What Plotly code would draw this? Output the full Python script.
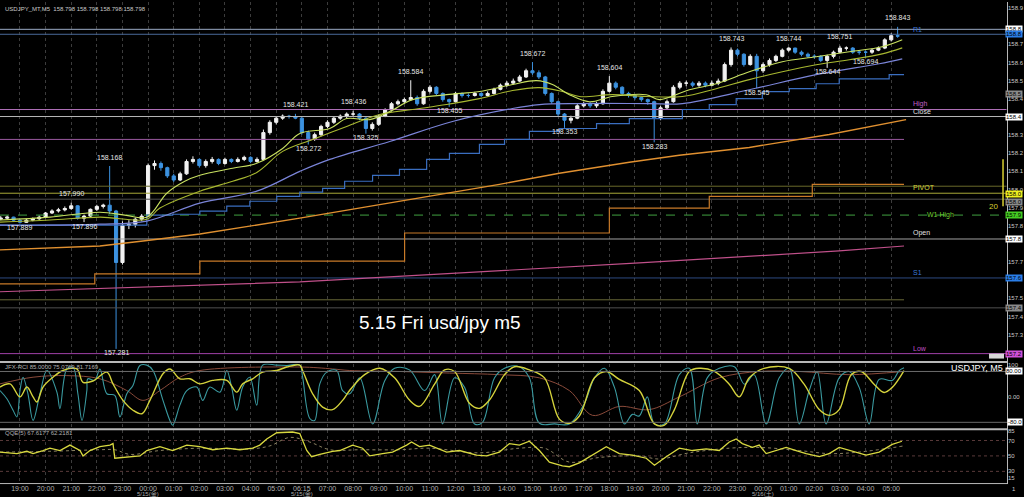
import plotly.graph_objects as go

W, H = 1024, 497


def px(x):
    return x / W


def py(y):
    return 1 - y / H


# ---------------- data ----------------
# time unit: hours after 19:00 (5/14); 15-minute candles
candle_start = -0.75
candle_step = 0.25
first_open = 157.910
closes = [157.915, 157.920, 157.905, 157.895, 157.905, 157.912, 157.920, 157.940, 157.950, 157.955,
          157.962, 157.975, 157.915, 157.925, 157.958, 157.972, 157.978, 157.950, 157.700, 157.880,
          157.885, 157.910, 157.925, 158.170, 158.180, 158.160, 158.120, 158.100, 158.130, 158.190,
          158.200, 158.170, 158.190, 158.200, 158.180, 158.200, 158.190, 158.200, 158.210, 158.190,
          158.200, 158.330, 158.380, 158.400, 158.410, 158.408, 158.400, 158.330, 158.300, 158.320,
          158.360, 158.380, 158.400, 158.410, 158.420, 158.420, 158.400, 158.350, 158.370, 158.410,
          158.440, 158.470, 158.480, 158.490, 158.500, 158.470, 158.530, 158.550, 158.520, 158.490,
          158.480, 158.520, 158.510, 158.510, 158.520, 158.510, 158.520, 158.540, 158.560, 158.570,
          158.580, 158.600, 158.630, 158.620, 158.600, 158.520, 158.480, 158.420, 158.390, 158.400,
          158.460, 158.470, 158.460, 158.470, 158.530, 158.570, 158.550, 158.520, 158.510, 158.500,
          158.490, 158.480, 158.400, 158.450, 158.480, 158.550, 158.570, 158.570, 158.560, 158.570,
          158.560, 158.570, 158.580, 158.660, 158.730, 158.710, 158.660, 158.700, 158.630, 158.660,
          158.680, 158.700, 158.730, 158.740, 158.720, 158.710, 158.700, 158.700, 158.680, 158.700,
          158.720, 158.740, 158.740, 158.720, 158.720, 158.720, 158.730, 158.740, 158.780, 158.800,
          158.798]
highs = [157.925, 157.928, 157.922, 157.910, 157.912, 157.918, 157.928, 157.945, 157.958, 157.965,
         157.972, 157.990, 157.978, 157.932, 157.962, 157.980, 157.985, 158.168, 157.955, 157.900,
         157.905, 157.918, 157.935, 158.180, 158.195, 158.190, 158.165, 158.130, 158.140, 158.200,
         158.215, 158.205, 158.200, 158.212, 158.205, 158.208, 158.205, 158.210, 158.218, 158.215,
         158.210, 158.345, 158.390, 158.410, 158.418, 158.416, 158.421, 158.405, 158.340, 158.330,
         158.368, 158.390, 158.408, 158.418, 158.428, 158.436, 158.425, 158.405, 158.380, 158.418,
         158.448, 158.478, 158.490, 158.500, 158.584, 158.510, 158.540, 158.560, 158.555, 158.525,
         158.495, 158.528, 158.525, 158.520, 158.528, 158.525, 158.530, 158.548, 158.568, 158.580,
         158.592, 158.610, 158.640, 158.672, 158.632, 158.605, 158.525, 158.485, 158.425, 158.412,
         158.468, 158.480, 158.478, 158.480, 158.540, 158.604, 158.578, 158.555, 158.528, 158.515,
         158.505, 158.495, 158.485, 158.460, 158.490, 158.560, 158.580, 158.582, 158.578, 158.580,
         158.578, 158.582, 158.592, 158.670, 158.743, 158.738, 158.715, 158.710, 158.712, 158.670,
         158.690, 158.708, 158.738, 158.744, 158.742, 158.728, 158.718, 158.710, 158.706, 158.708,
         158.728, 158.751, 158.748, 158.745, 158.730, 158.728, 158.738, 158.748, 158.788, 158.812,
         158.843]
lows = [157.905, 157.908, 157.898, 157.889, 157.892, 157.900, 157.906, 157.915, 157.935, 157.942,
        157.948, 157.955, 157.908, 157.896, 157.918, 157.950, 157.962, 157.935, 157.281, 157.690,
        157.862, 157.870, 157.900, 157.920, 158.150, 158.145, 158.110, 158.090, 158.095, 158.125,
        158.180, 158.160, 158.160, 158.180, 158.172, 158.175, 158.182, 158.185, 158.192, 158.182,
        158.185, 158.195, 158.320, 158.370, 158.392, 158.398, 158.395, 158.320, 158.272, 158.290,
        158.312, 158.352, 158.372, 158.392, 158.400, 158.410, 158.390, 158.325, 158.340, 158.362,
        158.405, 158.432, 158.462, 158.470, 158.485, 158.460, 158.465, 158.520, 158.512, 158.480,
        158.455, 158.475, 158.500, 158.500, 158.505, 158.502, 158.505, 158.515, 158.535, 158.552,
        158.562, 158.575, 158.595, 158.610, 158.590, 158.510, 158.470, 158.410, 158.353, 158.375,
        158.395, 158.452, 158.450, 158.450, 158.465, 158.525, 158.540, 158.512, 158.500, 158.490,
        158.480, 158.465, 158.283, 158.390, 158.440, 158.475, 158.540, 158.555, 158.550, 158.552,
        158.550, 158.555, 158.560, 158.575, 158.650, 158.700, 158.650, 158.655, 158.545, 158.620,
        158.650, 158.672, 158.695, 158.722, 158.712, 158.700, 158.692, 158.688, 158.672, 158.644,
        158.690, 158.715, 158.728, 158.712, 158.708, 158.694, 158.712, 158.725, 158.735, 158.772,
        158.790]
high_label_idx = [11, 17, 46, 55, 64, 83, 95, 114, 123, 131, 140]
low_label_idx = [3, 13, 18, 48, 57, 70, 88, 102, 118, 129, 135]

# moving averages (hour, price)
ma_fast_t = [-0.78, 1.17, 3.12, 4.09, 4.95, 5.73, 6.43, 7.02, 8.30, 9.24, 10.25, 10.92, 12.09, 12.75, 13.65,
             14.43, 15.32, 16.65, 17.93, 19.22, 20.16, 20.78, 21.44, 22.22, 23.12, 24.44, 24.95, 26.12,
             27.17, 28.46, 29.75, 31.07, 32.36, 33.65, 34.43]
ma_fast_v = [157.906, 157.920, 157.944, 157.930, 157.920, 158.036, 158.094, 158.123, 158.157, 158.181,
             158.253, 158.326, 158.350, 158.398, 158.393, 158.432, 158.490, 158.514, 158.529, 158.563,
             158.582, 158.563, 158.514, 158.480, 158.505, 158.514, 158.490, 158.538, 158.567, 158.625,
             158.674, 158.698, 158.722, 158.746, 158.780]
ma_mid_t = [-0.78, 1.17, 3.12, 4.95, 5.46, 7.02, 8.30, 9.24, 10.25, 11.42, 12.75, 14.04, 15.32, 16.65,
            17.93, 19.22, 20.27, 21.17, 21.83, 23.12, 24.44, 25.85, 27.17, 28.46, 29.75, 31.07, 32.36,
            33.65, 34.43]
ma_mid_v = [157.896, 157.906, 157.920, 157.910, 157.964, 158.046, 158.094, 158.137, 158.239, 158.297,
            158.360, 158.418, 158.442, 158.466, 158.495, 158.534, 158.548, 158.529, 158.505, 158.514,
            158.505, 158.505, 158.543, 158.587, 158.625, 158.659, 158.683, 158.712, 158.741]
ma_slow_t = [-0.78, 1.17, 3.12, 4.95, 7.02, 9.24, 10.92, 12.09, 14.43, 16.88, 19.22, 20.27, 21.83,
             24.56, 25.85, 28.46, 31.07, 33.53, 34.43]
ma_slow_v = [157.881, 157.881, 157.886, 157.901, 157.988, 158.046, 158.142, 158.200, 158.287, 158.384,
             158.447, 158.466, 158.471, 158.471, 158.471, 158.538, 158.611, 158.664, 158.688]
band_step_t = [-0.78, 4.95, 5.96, 7.02, 8.07, 8.97, 10.02, 10.92, 11.81, 12.67, 13.76, 14.81, 15.87,
               16.76, 17.93, 18.91, 19.88, 21.05, 22.50, 23.78, 25.85, 26.90, 27.95, 28.97, 30.02,
               31.07, 31.97, 33.92, 34.50]
band_step_v = [157.881, 157.930, 157.934, 157.949, 157.973, 157.997, 158.021, 158.041, 158.060, 158.094,
               158.123, 158.152, 158.200, 158.229, 158.273, 158.297, 158.336, 158.350, 158.374, 158.398,
               158.442, 158.466, 158.495, 158.529, 158.543, 158.567, 158.591, 158.611, 158.611]
ma_long_t = [-0.78, 3.12, 4.80, 7.02, 10.92, 14.81, 18.71, 21.05, 23.78, 25.73, 28.46, 31.58, 34.58]
ma_long_v = [157.761, 157.780, 157.804, 157.838, 157.915, 157.997, 158.079, 158.133, 158.186, 158.220,
             158.258, 158.321, 158.393]
ma_xlong_t = [-0.78, 10.92, 24.17, 31.97, 34.50]
ma_xlong_v = [157.558, 157.606, 157.698, 157.756, 157.780]
step_long_t = [-0.78, 2.92, 7.02, 15.01, 23.00, 26.90, 30.92, 34.50]
step_long_v = [157.596, 157.645, 157.707, 157.843, 157.964, 158.021, 158.079, 158.079]

# horizontal levels
level_prices = [158.831, 158.807, 158.442, 158.408, 158.297, 158.070, 158.036, 158.007, 157.930,
                157.814, 157.625, 157.519, 157.480, 157.258]
level_names = ["R1", "", "High", "Close", "", "", "PIVOT", "", "W1 High", "Open", "S1", "", "", "Low"]
extra_box_price = 158.519

# right axis price ticks (labels hidden behind the level boxes are blank)
price_ticks = [157.350, 157.438, 157.526, 157.614, 157.702, 157.790, 157.878, 157.966, 158.054,
               158.142, 158.230, 158.318, 158.406, 158.494, 158.582, 158.670, 158.758, 158.846, 158.934]
hidden_ticks = [157.614, 157.790, 158.406, 158.846]

hour_labels = ["19:00", "20:00", "21:00", "22:00", "23:00", "00:00", "01:00", "02:00", "03:00",
               "04:00", "05:00", "06:15", "07:00", "08:00", "09:00", "10:00", "11:00", "12:00",
               "13:00", "14:00", "15:00", "16:00", "17:00", "18:00", "19:00", "20:00", "21:00",
               "22:00", "23:00", "00:00", "01:00", "02:00", "03:00", "04:00", "05:00"]
date_labels = ["5/15(金)", "5/15(金)", "5/16(土)"]
date_label_hours = [5.0, 11.0, 29.0]

# RCI (hour, value)
rci_mid_t = [-0.78, -0.39, 0, 0.27, 0.51, 0.66, 0.90, 1.29, 1.68, 2.22, 2.46, 2.85, 3.39, 3.63, 4.02, 4.41,
             4.76, 5.07, 5.58, 5.85, 6.24, 6.63, 7.02, 7.52, 8.07, 8.46, 8.69, 9.08, 9.47, 10.02, 10.41,
             10.92, 11.03, 11.42, 11.81, 12.20, 12.59, 12.87, 13.45, 14.04, 14.62, 15.20, 15.59, 16.18,
             16.57, 16.96, 17.54, 17.93, 18.32, 18.91, 19.30, 19.88, 20.47, 21.05, 21.44, 21.83, 22.42,
             22.88, 23.39, 24.17, 24.76, 25.15, 25.54, 26.12, 26.51, 27.10, 27.68, 28.07, 28.46, 29.04,
             30.02, 30.60, 31.19, 31.58, 31.97, 32.44, 32.83, 33.33, 33.72, 34.04, 34.50]
rci_mid_v = [31, 41, 0, 31, 0, -16, 31, 62, 83, 88, 46, 50, 78, 41, -11, -42,
             -53, -11, 73, 88, 57, 57, 41, 52, 52, 15, 41, 57, 78, 83, 94,
             100, 83, 10, -32, -40, -11, 21, 70, 90, 60, -10, -30, 40,
             85, 80, -20, -36, -10, 70, 95, 85, 60, -70, -83, -60, 60,
             80, 55, 20, -85, -89, -40, 80, 90, 80, 40, 0, 60, 90,
             90, 40, -40, -58, -40, 70, 80, 40, 14, 30, 83]
rci_fast_t = [-0.78, -0.51, -0.27, -0.12, 0, 0.12, 0.31, 0.51, 0.78, 1.05, 1.44, 1.56, 1.83, 2.07, 2.26,
              2.42, 2.61, 2.65, 2.92, 3.12, 3.39, 3.70, 3.90, 4.17, 4.41, 4.68, 4.95, 5.19, 5.58, 5.85,
              5.96, 6.24, 6.51, 6.90, 7.13, 7.41, 7.80, 8.07, 8.27, 8.46, 8.69, 8.97, 9.24, 9.47, 10.02,
              10.41, 10.92, 11.03, 11.31, 11.50, 11.70, 11.97, 12.36, 12.59, 12.87, 13.26, 13.76, 14.23,
              14.62, 15.20, 15.79, 16.18, 16.49, 16.96, 17.35, 17.74, 18.05, 18.52, 18.91, 19.49, 19.88,
              20.27, 20.86, 21.44, 22.03, 22.42, 22.81, 23.20, 23.59, 23.90, 24.17, 24.48, 24.76, 25.15,
              25.73, 26.12, 26.43, 26.82, 27.29, 27.88, 28.27, 28.65, 29.12, 29.63, 30.02, 30.41, 30.80,
              31.11, 31.46, 31.97, 32.36, 32.75, 33.14, 33.53, 34.04, 34.31, 34.50]
rci_fast_v = [20, -6, -42, -63, 20, 62, 10, -74, 10, 83, 15, -37, 88, 93, 10,
              -74, 20, 57, 52, 88, 10, 5, -63, 10, 36, 99, 100, 83, -11, -74,
              -89, -26, 20, 31, -11, 31, 15, 83, 26, -42, 31, 62, -26, 100, 100,
              99, 100, 62, -68, -74, 41, 78, 83, 20, 10, 60, -85, 50,
              90, 85, 20, 70, -85, 60, 30, -85, -80, 60, 90, 95, 60,
              -83, -85, -85, -20, 60, 90, 30, -85, -55, -60, 0, -85, -85,
              70, 90, -85, 60, 90, 95, 40, 70, -85, 60, 90, -85, 20,
              80, -85, 60, 80, 30, -85, 55, 52, 83, 92]
rci_slow_t = [-0.78, 0.51, 1.83, 3.12, 4.17, 4.80, 5.46, 6.24, 7.02, 10.92, 12.20, 12.87, 14.81, 16.76,
              18.71, 20.27, 21.44, 22.34, 23.39, 24.56, 25.73, 27.29, 28.85, 30.41, 32.36, 34.50]
rci_slow_v = [41, 62, 67, 57, 20, -11, 20, 62, 83, 94, 88, 83, 80, 75,
              70, 60, 20, -58, -30, -40, 0, 60, 80, 80, 70, 80]

# QQE (hour, value)
qqe_t = [-0.78, -0.12, 0.27, 0.51, 0.90, 1.17, 1.56, 1.95, 2.34, 2.46, 2.73, 3.12, 3.51, 3.63, 3.70, 4.17,
         4.68, 4.95, 5.46, 5.96, 6.51, 7.02, 7.52, 8.07, 8.58, 9.08, 9.36, 9.63, 10.02, 10.64, 10.92,
         11.19, 11.38, 11.70, 12.20, 12.48, 12.98, 13.37, 13.65, 14.15, 14.54, 15.09, 15.28, 15.59,
         15.98, 16.65, 17.15, 17.82, 18.21, 18.71, 19.10, 19.49, 19.88, 20.27, 20.66, 21.17, 21.44,
         21.83, 22.34, 22.88, 23.39, 23.90, 24.44, 24.76, 25.22, 25.73, 26.24, 26.78, 27.29, 27.68,
         27.95, 28.19, 28.58, 28.85, 29.12, 29.51, 29.90, 30.29, 30.68, 31.19, 31.58, 31.97, 32.48,
         33.02, 33.53, 34.04, 34.42]
qqe_v = [55, 53, 56, 53, 57, 60, 57, 64, 57, 50, 57, 62, 64, 66, 47, 48,
         50, 57, 62, 57, 64, 62, 58, 60, 58, 60, 64, 72, 80, 81, 79,
         57, 49, 52, 56, 57, 64, 60, 50, 53, 55, 64, 68, 62,
         64, 55, 57, 51, 50, 55, 66, 64, 69, 57, 42, 37, 36,
         41, 51, 62, 53, 51, 47, 38, 49, 60, 57, 59, 57, 68,
         72, 66, 61, 64, 53, 57, 61, 57, 53, 49, 53, 61, 56,
         51, 55, 65, 69]
qqe_slow_t = [-0.78, 1.17, 3.12, 3.70, 4.29, 5.46, 7.02, 8.97, 9.75, 10.53, 11.31, 12.09, 13.26, 14.81,
              15.98, 17.93, 19.49, 20.47, 21.44, 22.61, 24.17, 24.95, 26.12, 27.68, 28.85, 30.41, 31.58,
              32.75, 34.50]
qqe_slow_v = [55, 56, 58, 58, 52, 57, 60, 59, 63, 74, 68, 58, 58, 58,
              60, 54, 60, 60, 42, 48, 50, 46, 54, 60, 61, 57, 53, 55, 63]

# ---------------- figure ----------------
times = [candle_start + candle_step * i for i in range(len(closes))]
opens = [first_open] + closes[:-1]

X_RANGE = [-0.7797, 38.519]
PLOT_RIGHT = 1008
FONT = "Liberation Sans, Arial, Noto Sans CJK JP, sans-serif"
label_grey = "#c8c8c8"

fig = go.Figure()

level_style = [
    ("#9aaac4", "solid", 38.5), ("#4a6a9a", "solid", 38.5), ("#b070b8", "solid", 38.5),
    ("#b8b8b8", "solid", 38.5), ("#9a5aa0", "solid", 34.5), ("#6a6a2a", "solid", 38.5),
    ("#a8a838", "solid", 38.5), ("#505050", "solid", 38.5), ("#40a040", "dash", 38.5),
    ("#a0a0a0", "solid", 38.5), ("#2c4a80", "solid", 38.5), ("#6a6a38", "solid", 34.5),
    ("#505050", "solid", 38.5), ("#a040a8", "solid", 38.5),
]
for price, (col, dash, xend) in zip(level_prices, level_style):
    fig.add_trace(go.Scatter(x=[X_RANGE[0], xend], y=[price, price], mode="lines",
                             line=dict(color=col, width=1, dash=dash), hoverinfo="skip",
                             showlegend=False, xaxis="x", yaxis="y"))

line_specs = [
    (ma_xlong_t, ma_xlong_v, "#c0508a", "linear", 1.2),
    (step_long_t, step_long_v, "#c87a28", "hv", 1.2),
    (ma_long_t, ma_long_v, "#e09030", "linear", 1.4),
    (band_step_t, band_step_v, "#3a6ec0", "hv", 1.2),
    (ma_slow_t, ma_slow_v, "#7a84d8", "spline", 1.2),
    (ma_mid_t, ma_mid_v, "#a8b830", "spline", 1.1),
    (ma_fast_t, ma_fast_v, "#c8e060", "spline", 1.1),
]
for tx, vy, col, shape, w in line_specs:
    fig.add_trace(go.Scatter(x=tx, y=vy, mode="lines", line=dict(color=col, width=w, shape=shape),
                             hoverinfo="skip", showlegend=False, xaxis="x", yaxis="y"))

fig.add_trace(go.Candlestick(
    x=times, open=opens, high=highs, low=lows, close=closes,
    increasing=dict(line=dict(color="#f2f2f2", width=1), fillcolor="#f2f2f2"),
    decreasing=dict(line=dict(color="#3c92e0", width=1), fillcolor="#3c92e0"),
    whiskerwidth=0, hoverinfo="skip", showlegend=False, xaxis="x", yaxis="y"))

for tx, vy, col, w in [(rci_slow_t, rci_slow_v, "#8a4a3a", 1.0),
                       (rci_fast_t, rci_fast_v, "#3a9aa0", 1.1),
                       (rci_mid_t, rci_mid_v, "#d4d23c", 1.4)]:
    fig.add_trace(go.Scatter(x=tx, y=vy, mode="lines", line=dict(color=col, width=w, shape="spline"),
                             hoverinfo="skip", showlegend=False, xaxis="x2", yaxis="y2"))
for lv in [80, -80]:
    fig.add_trace(go.Scatter(x=X_RANGE, y=[lv, lv], mode="lines", line=dict(color="#6a6a6a", width=1),
                             hoverinfo="skip", showlegend=False, xaxis="x2", yaxis="y2"))

for lv in [70, 50, 30]:
    fig.add_trace(go.Scatter(x=X_RANGE, y=[lv, lv], mode="lines",
                             line=dict(color="#5a3a3a", width=1, dash="dot"),
                             hoverinfo="skip", showlegend=False, xaxis="x3", yaxis="y3"))
fig.add_trace(go.Scatter(x=qqe_slow_t, y=qqe_slow_v, mode="lines",
                         line=dict(color="#8a8060", width=1, dash="dot", shape="spline"),
                         hoverinfo="skip", showlegend=False, xaxis="x3", yaxis="y3"))
fig.add_trace(go.Scatter(x=qqe_t, y=qqe_v, mode="lines", line=dict(color="#d8d840", width=1.3),
                         hoverinfo="skip", showlegend=False, xaxis="x3", yaxis="y3"))

ann = []
tf = dict(family=FONT, size=7, color="#e6e6e6")
for i in high_label_idx:
    ann.append(dict(x=times[i], y=highs[i], xref="x", yref="y", text=f"{highs[i]:.3f}",
                    showarrow=False, yshift=9, font=tf))
for i in low_label_idx:
    ann.append(dict(x=times[i], y=lows[i], xref="x", yref="y", text=f"{lows[i]:.3f}",
                    showarrow=False, yshift=-4, font=tf))

level_label_colors = {"R1": "#3c78d8", "High": "#c060c8", "Close": "#e0e0e0", "PIVOT": "#d8d840",
                      "W1 High": "#70d030", "Open": "#e0e0e0", "S1": "#3c78d8", "Low": "#c050c8"}
for price, name in zip(level_prices, level_names):
    if not name:
        continue
    xpos = 35.3 if name == "W1 High" else 34.78
    yanc = "middle" if name in ("R1", "W1 High") else "bottom"
    ann.append(dict(x=xpos, y=price, xref="x", yref="y", text=name, showarrow=False,
                    xanchor="left", yanchor=yanc, font=dict(family=FONT, size=7,
                                                            color=level_label_colors[name])))


def edge_box(y, yref, text, bg, shift=0):
    # price box flush with the right window edge; only the part the window shows is kept
    return dict(x=1.0, y=y, xref="paper", yref=yref, text=text[:5], showarrow=False,
                xanchor="right", bgcolor=bg, borderpad=0, yshift=shift,
                font=dict(family=FONT, size=6, color="#000000"))


box_colors = ["#ffffff", "#2a7ee8", None, "#ffffff", None, None, "#f0f020", "#8a8a8a", "#44cc22",
              "#ffffff", "#2a7ee8", None, "#8a8a8a", "#d050d8"]
box_shift = [0, 0, 0, 0, 0, 0, -1, -3, 0, 0, 0, 0, 0, 0]
for price, bc, sh in zip(level_prices, box_colors, box_shift):
    if bc is None:
        continue
    ann.append(edge_box(price, "y", f"{price:.3f}", bc, sh))
ann.append(edge_box(extra_box_price, "y", f"{extra_box_price:.3f}", "#8a8a8a"))
for v in [80, -80]:
    ann.append(edge_box(v, "y2", f"{v:.2f}", "#ffffff"))

ann.append(dict(x=px(3), y=py(2), xref="paper", yref="paper", xanchor="left", yanchor="top",
                text="USDJPY_MT,M5  158.798 158.798 158.798 158.798", showarrow=False,
                font=dict(family=FONT, size=6, color="#c8c8c8")))
ann.append(dict(x=px(357), y=py(322), xref="paper", yref="paper", xanchor="left", yanchor="middle",
                text="5.15 Fri usd/jpy m5", showarrow=False,
                font=dict(family=FONT, size=19, color="#ffffff")))
ann.append(dict(x=px(3), y=py(366), xref="paper", yref="paper", xanchor="left", yanchor="middle",
                text="JFX-RCI 85.0000 75.0769 81.7169", showarrow=False,
                font=dict(family=FONT, size=6, color="#b0b0b0")))
ann.append(dict(x=px(3), y=py(433), xref="paper", yref="paper", xanchor="left", yanchor="middle",
                text="QQE(5) 67.6177 62.2181", showarrow=False,
                font=dict(family=FONT, size=6, color="#b0b0b0")))
ann.append(dict(x=px(1006), y=py(367), xref="paper", yref="paper", xanchor="right", yanchor="middle",
                text="USDJPY, M5", showarrow=False, font=dict(family=FONT, size=9, color="#ffffff")))
ann.append(dict(x=px(PLOT_RIGHT + 3), y=py(489), xref="paper", yref="paper", text="1",
                showarrow=False, xanchor="left", yanchor="middle",
                font=dict(family=FONT, size=6, color=label_grey)))
for lab, hr in zip(date_labels, date_label_hours):
    ann.append(dict(x=hr, y=py(493), xref="x3", yref="paper", text=lab, showarrow=False,
                    yanchor="middle", font=dict(family=FONT, size=6, color="#a8a8a8")))
ann.append(dict(x=px(1001), y=py(205), xref="paper", yref="paper", text="20", showarrow=False,
                xanchor="right", font=dict(family=FONT, size=8, color="#d8d030")))

shapes = []
grey = "#b8b8b8"
for yy, w in [(361.5, 2), (429, 2), (483.5, 1)]:
    shapes.append(dict(type="line", xref="paper", yref="paper", x0=0, x1=px(PLOT_RIGHT),
                       y0=py(yy), y1=py(yy), line=dict(color=grey, width=w)))
shapes.append(dict(type="line", xref="paper", yref="paper", x0=px(PLOT_RIGHT + 0.5), x1=px(PLOT_RIGHT + 0.5),
                   y0=py(0), y1=py(484), line=dict(color=grey, width=1)))
shapes.append(dict(type="line", xref="paper", yref="paper", x0=px(1004), x1=px(1004),
                   y0=py(158), y1=py(205), line=dict(color="#d8d030", width=1.5)))
shapes.append(dict(type="rect", xref="paper", yref="paper", x0=px(990), x1=px(1005),
                   y0=py(358), y1=py(353), fillcolor="#d8d8d8", line=dict(width=0)))

axis_common = dict(range=X_RANGE, showgrid=True, gridcolor="#3c3c3c", griddash="dot", gridwidth=1,
                   tickvals=list(range(len(hour_labels))), zeroline=False, showline=False,
                   domain=[0, px(PLOT_RIGHT)], fixedrange=True)

# tick text is cut where the window edge cuts it in the original
main_tick_text = ["" if v in hidden_ticks else f"{v:.3f}"[:5] for v in price_ticks]

fig.update_layout(
    width=W, height=H, margin=dict(l=0, r=0, t=0, b=0, pad=0), autosize=False,
    paper_bgcolor="#000000", plot_bgcolor="#000000", showlegend=False,
    font=dict(family=FONT, color=label_grey, size=7),
    xaxis=dict(**axis_common, anchor="y", showticklabels=False, rangeslider=dict(visible=False)),
    xaxis2=dict(**axis_common, anchor="y2", showticklabels=False),
    xaxis3=dict(**axis_common, anchor="y3", showticklabels=True, ticktext=hour_labels,
                tickfont=dict(size=7, color="#b0b0b0"), ticks="", ticklen=0),
    yaxis=dict(domain=[py(360), 1], range=[157.2244, 158.9635], side="right", anchor="x",
               tickvals=price_ticks, ticktext=main_tick_text,
               showgrid=False, zeroline=False, ticks="", tickfont=dict(size=6, color=label_grey),
               fixedrange=True),
    yaxis2=dict(domain=[py(428.4), py(363)], range=[-100, 105], side="right", anchor="x2",
                tickvals=[100, 0], ticktext=["100", "0.00"], showgrid=False, zeroline=False, ticks="",
                tickfont=dict(size=6, color=label_grey), fixedrange=True),
    yaxis3=dict(domain=[py(483), py(430)], range=[14.84, 83.23], side="right", anchor="x3",
                tickvals=[81.9, 70, 50, 30, 21.3], ticktext=["85", "70", "50", "30", "15"],
                showgrid=False, zeroline=False, ticks="", tickfont=dict(size=6, color=label_grey),
                fixedrange=True),
    annotations=ann, shapes=shapes,
)

post = ("document.documentElement.style.overflow='hidden';"
        "document.body.style.margin='0';document.body.style.overflow='hidden';")
fig.write_html("out.html", config={"displayModeBar": False}, post_script=post)
